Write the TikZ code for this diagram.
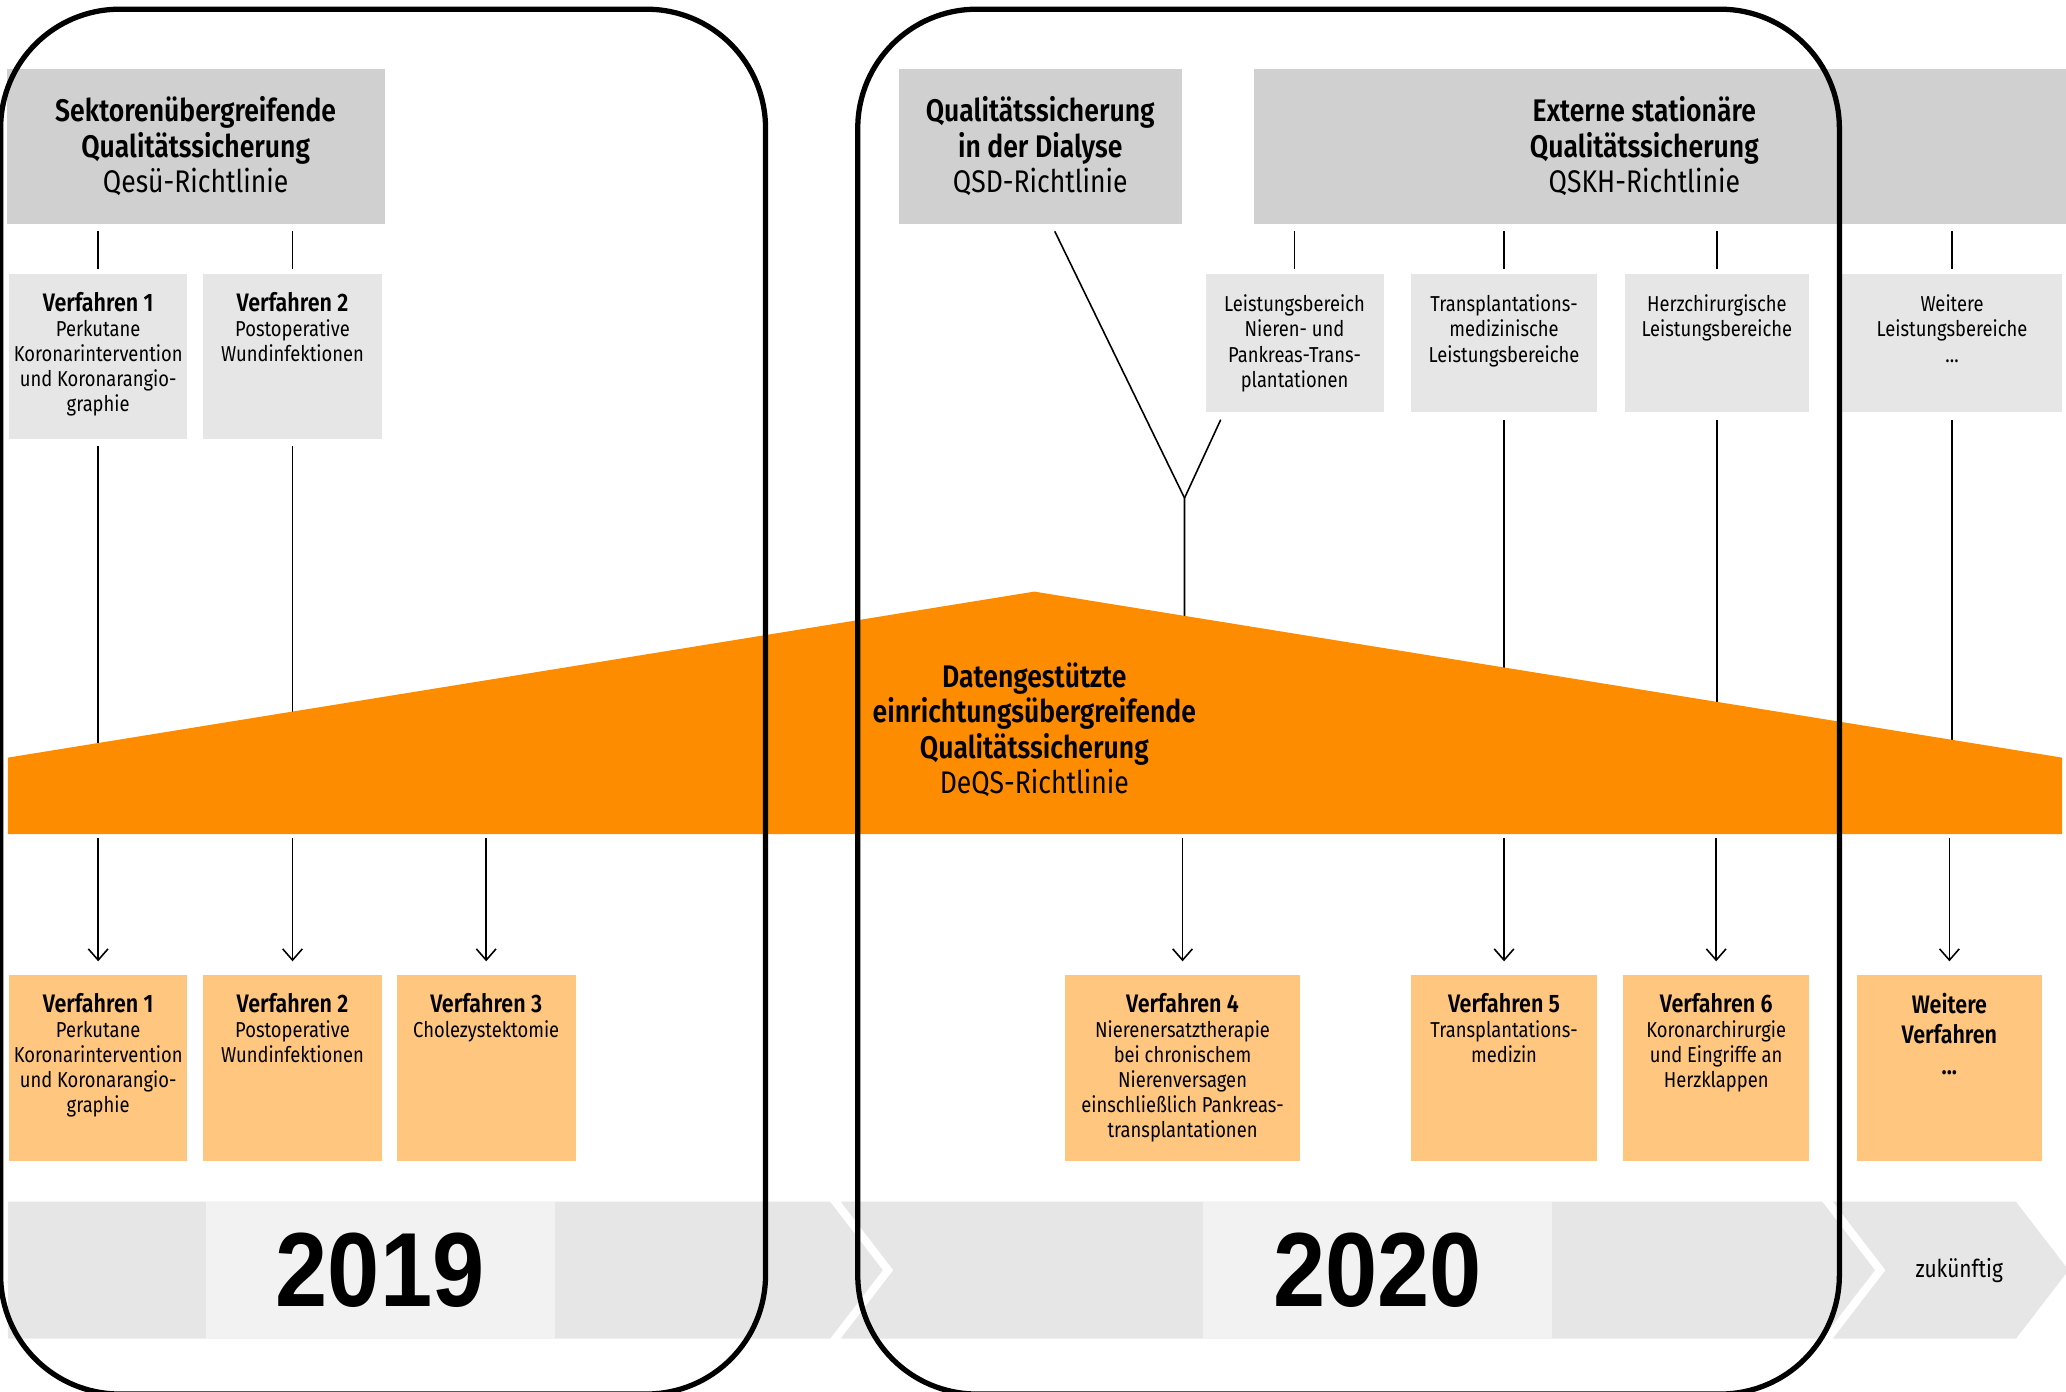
\documentclass[tikz,border=0pt]{standalone}
\usepackage{fontspec}
\setmainfont{Fira Sans}[FakeStretch=0.85,BoldFont={Fira Sans SemiBold}]
\newfontfamily\yearfont{Liberation Sans}[FakeStretch=0.89]
\usetikzlibrary{arrows.meta,calc,fit}
\definecolor{headgray}{RGB}{208,208,208}
\definecolor{boxgray}{RGB}{230,230,230}
\definecolor{deqsorange}{RGB}{253,140,0}
\definecolor{verforange}{RGB}{255,198,128}
\definecolor{bandgray}{RGB}{230,230,230}
\definecolor{yeargray}{RGB}{242,242,242}
\newcommand\vftitle[1]{{\fontsize{7.2}{7.12}\selectfont\bfseries #1}}
\begin{document}
\begin{tikzpicture}[x=0.013176cm,y=-0.013176cm,
  headbox/.style={fill=headgray,inner sep=0},
  headtext/.style={inner sep=0,align=center,font=\fontsize{8.9}{10.1}\selectfont},
  qsbox/.style={fill=boxgray,inner sep=0},
  vfbox/.style={fill=verforange,inner sep=0},
  boxtext/.style={anchor=north,inner sep=0,align=center,font=\fontsize{6.15}{7.12}\selectfont},
  link/.style={line width=0.45pt,shorten <=1.9pt,shorten >=1.1pt},
  flow/.style={line width=0.45pt,-{Straight Barb[length=3.2pt,width=5.6pt]},shorten <=1.1pt,shorten >=3.7pt},
  yearbox/.style={fill=yeargray,inner sep=0},
  yeartext/.style={inner sep=0,font=\yearfont\fontsize{30}{30}\selectfont\bfseries},
  yearframe/.style={line width=1.5pt,rounded corners=1.19cm}]
\clip (0,0) rectangle (1568,1056);
%richtlinien
\node[headbox,fit={(5,52) (292,170)}] (h1) {};
\node[headtext] (h1t) at (h1.center) {\textbf{Sektorenübergreifende}\\\textbf{Qualitätssicherung}\\Qesü-Richtlinie};
\node[headbox,fit={(682,52) (897,170)}] (h2) {};
\node[headtext] (h2t) at (h2.center) {\textbf{Qualitätssicherung}\\\textbf{in der Dialyse}\\QSD-Richtlinie};
\node[headbox,fit={(952,52) (1568,170)}] (h3) {};
\node[headtext] (h3t) at ($(h3.center)+(-12,0)$) {\textbf{Externe stationäre}\\\textbf{Qualitätssicherung}\\QSKH-Richtlinie};
%leistungsbereiche
\node[qsbox,fit={(7,208) (142,333)}] (s1) {};
\node[boxtext] (s1t) at ($(s1.north)+(0,14)$) {\vftitle{Verfahren 1}\\Perkutane\\Koronarintervention\\und Koronarangio-\\graphie};
\node[qsbox,fit={(154,208) (290,333)}] (s2) {};
\node[boxtext] (s2t) at ($(s2.north)+(0,14)$) {\vftitle{Verfahren 2}\\Postoperative\\Wundinfektionen};
\node[qsbox,fit={(915,208) (1050,313)}] (s3) {};
\node[boxtext] (s3t) at ($(s3.north)+(0,16)$) {Leistungsbereich\\Nieren- und\\Pankreas-Trans-\\plantationen};
\node[qsbox,fit={(1071,208) (1212,313)}] (s4) {};
\node[boxtext] (s4t) at ($(s4.north)+(0,16)$) {Transplantations-\\medizinische\\Leistungsbereiche};
\node[qsbox,fit={(1233,208) (1373,313)}] (s5) {};
\node[boxtext] (s5t) at ($(s5.north)+(0,16)$) {Herzchirurgische\\Leistungsbereiche};
\node[qsbox,fit={(1398,208) (1565,313)}] (s6) {};
\node[boxtext] (s6t) at ($(s6.north)+(0,16)$) {Weitere\\Leistungsbereiche\\...};
\draw[link] (h1.south -| s1.north) -- (s1.north);
\draw[link] (h1.south -| s2.north) -- (s2.north);
\draw[link] (h3.south -| s3.north) -- (s3.north);
\draw[link] (h3.south -| s4.north) -- (s4.north);
\draw[link] (h3.south -| s5.north) -- (s5.north);
\draw[link] (h3.south -| s6.north) -- (s6.north);
%lines into deqs
\coordinate (band) at (785,600);
\coordinate (bandfoot) at (785,633);
\coordinate (fork) at (899,378);
\draw[link] (s1.south) -- (s1.south |- band);
\draw[link] (s2.south) -- (s2.south |- band);
\draw[link] (s4.south) -- (s4.south |- band);
\draw[link] (s5.south) -- (s5.south |- band);
\draw[link] (s6.south) -- (s6.south |- band);
\draw[line width=0.45pt] ($(h2.south)+(11,5)$) -- (fork);
\draw[line width=0.45pt] ($(s3.south west)+(12,5)$) -- (fork) -- (fork |- band);
%deqs
\fill[deqsorange] (6,575) -- (785,449) -- (1565,575) -- (1565,633) -- (6,633) -- cycle;
\node[headtext] (deqs) at (785,554) {\textbf{Datengestützte}\\\textbf{einrichtungsübergreifende}\\\textbf{Qualitätssicherung}\\DeQS-Richtlinie};
%verfahren
\node[vfbox,fit={(7,740) (142,881)}] (v1) {};
\node[boxtext] (v1t) at ($(v1.north)+(0,14)$) {\vftitle{Verfahren 1}\\Perkutane\\Koronarintervention\\und Koronarangio-\\graphie};
\node[vfbox,fit={(154,740) (290,881)}] (v2) {};
\node[boxtext] (v2t) at ($(v2.north)+(0,14)$) {\vftitle{Verfahren 2}\\Postoperative\\Wundinfektionen};
\node[vfbox,fit={(301,740) (437,881)}] (v3) {};
\node[boxtext] (v3t) at ($(v3.north)+(0,14)$) {\vftitle{Verfahren 3}\\Cholezystektomie};
\node[vfbox,fit={(808,740) (987,881)}] (v4) {};
\node[boxtext] (v4t) at ($(v4.north)+(0,14)$) {\vftitle{Verfahren 4}\\Nierenersatztherapie\\bei chronischem\\Nierenversagen\\einschließlich Pankreas-\\transplantationen};
\node[vfbox,fit={(1071,740) (1212,881)}] (v5) {};
\node[boxtext] (v5t) at ($(v5.north)+(0,14)$) {\vftitle{Verfahren 5}\\Transplantations-\\medizin};
\node[vfbox,fit={(1232,740) (1373,881)}] (v6) {};
\node[boxtext] (v6t) at ($(v6.north)+(0,14)$) {\vftitle{Verfahren 6}\\Koronarchirurgie\\und Eingriffe an\\Herzklappen};
\node[vfbox,fit={(1409,740) (1550,881)}] (v7) {};
\node[boxtext,font=\fontsize{7.2}{8.6}\selectfont\bfseries] (v7t) at ($(v7.north)+(0,14)$) {Weitere\\Verfahren\\...};
\foreach \v in {v1,v2,v3,v4,v5,v6,v7}
  \draw[flow] (\v.north |- bandfoot) -- (\v.north);
%zeitachse
\fill[bandgray] (6,912) -- (630,912) -- (670,964) -- (630,1016) -- (6,1016) -- cycle;
\fill[bandgray] (638,912) -- (1383,912) -- (1423,964) -- (1383,1016) -- (638,1016) -- (678,964) -- cycle;
\fill[bandgray] (1391,912) -- (1530,912) -- (1570,964) -- (1530,1016) -- (1391,1016) -- (1431,964) -- cycle;
\node[yearbox,fit={(156,912) (421,1016)}] (y19) {};
\node[yeartext] (y19t) at (y19.center) {2019};
\node[yearbox,fit={(913,912) (1178,1016)}] (y20) {};
\node[yeartext] (y20t) at (y20.center) {2020};
\node[font=\fontsize{7}{8}\selectfont,inner sep=0] (zuk) at (1487,964) {zukünftig};
%jahre
\draw[yearframe] (0.5,7) rectangle (581,1058);
\draw[yearframe] (651,7) rectangle (1396,1058);
\end{tikzpicture}
\end{document}
